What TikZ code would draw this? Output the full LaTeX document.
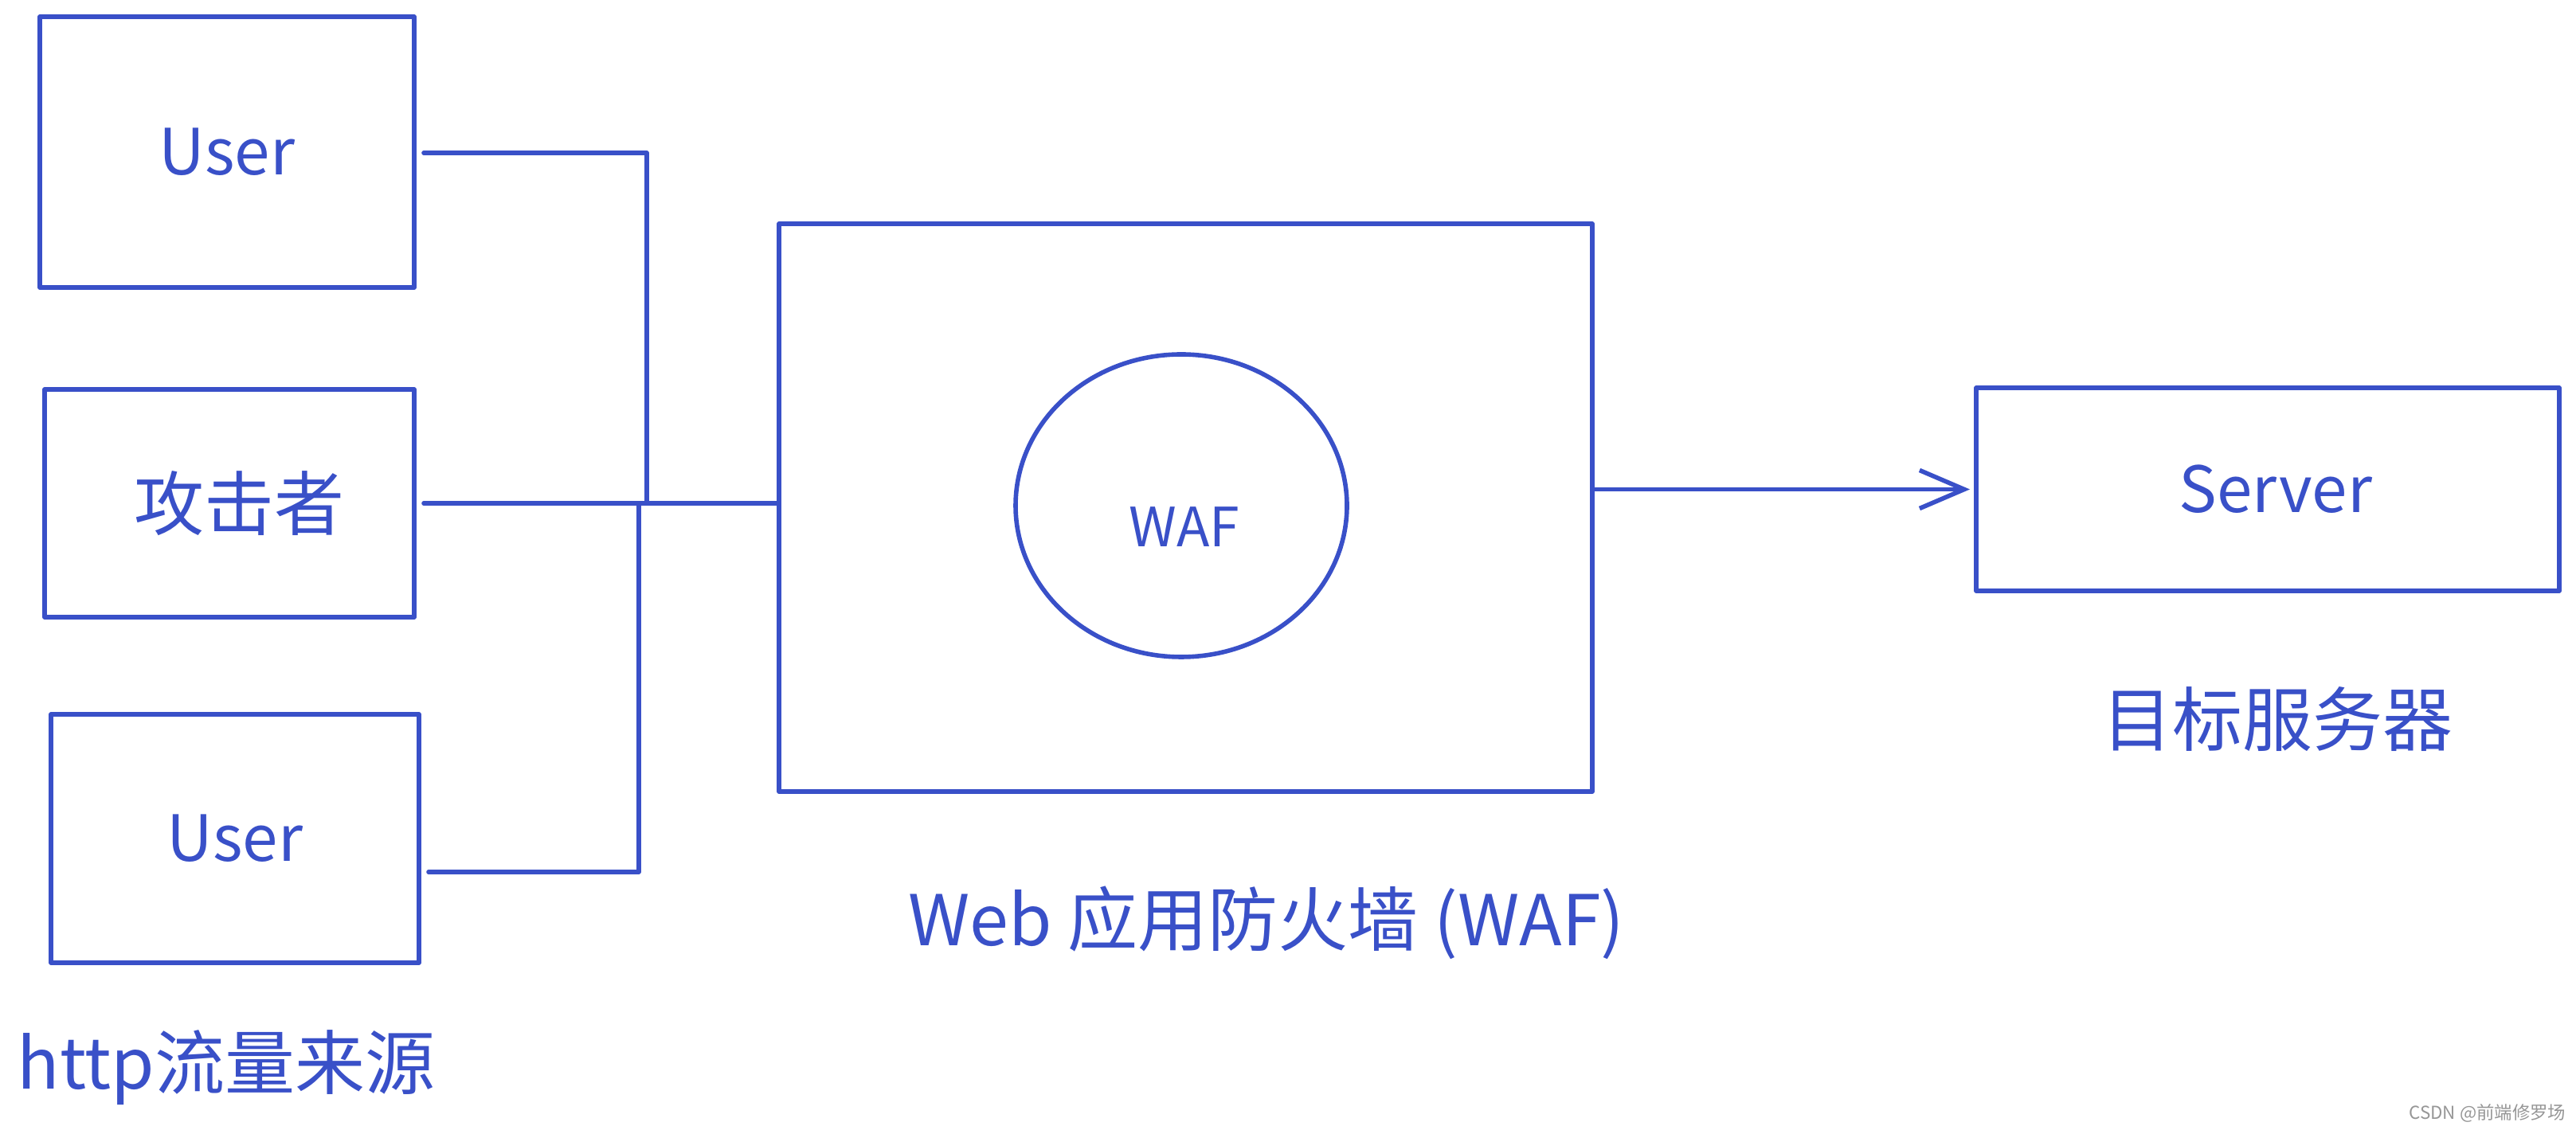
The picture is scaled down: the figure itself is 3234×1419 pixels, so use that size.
\documentclass[tikz,border=0pt]{standalone}
\usepackage{fontspec}
\newfontfamily\cjk{Noto Sans CJK SC}
\usetikzlibrary{arrows.meta,shapes.geometric}
\definecolor{ink}{RGB}{57,80,200}
\definecolor{wm}{RGB}{150,150,150}
\tikzset{
  every picture/.style={x=0.25pt,y=-0.25pt},
  stroke/.style={draw=ink,line width=1.4pt,line cap=round,line join=round},
  box/.style={stroke,rectangle,inner sep=0pt,outer sep=0pt,text=ink,font=\cjk\fontsize{20}{24}\selectfont},
  lbl/.style={text=ink,font=\cjk\fontsize{22}{26}\selectfont,inner sep=0pt},
  conn/.style={stroke}
}
\begin{document}
\begin{tikzpicture}
\useasboundingbox (0,0) rectangle (3234,1419);
% source boxes
\node[box,minimum width=117.5pt,minimum height=85pt] (u1) at (285,191) {User};
\node[box,minimum width=116pt,minimum height=71.5pt,font=\cjk\fontsize{22}{26}\selectfont] (atk) at (288,632) {\hspace*{6pt}攻击者};
\node[box,minimum width=115.5pt,minimum height=78pt] (u3) at (295,1053) {User};
% WAF
\node[box,minimum width=255.25pt,minimum height=178.25pt] (waf) at (1488.5,637.5) {};
\node[box,ellipse,minimum width=104pt,minimum height=95pt] (wafc) at (1483,635) {};
\node[lbl,font=\cjk\fontsize{17}{20}\selectfont] (waft) at (1487,662) {WAF};
% server
\node[box,minimum width=183pt,minimum height=63.75pt] (srv) at (2847,614.5) {\hspace*{5pt}Server};
% labels
\node[lbl] (srvl) at (2859,903) {目标服务器};
\node[lbl] (wafl) at (1590,1159) {Web 应用防火墙 (WAF)};
\node[lbl,anchor=west] (srcl) at (21,1341) {http流量来源};
\node[text=wm,font=\cjk\fontsize{5.6}{7}\selectfont,inner sep=0pt,anchor=east] (mark) at (3222,1398) {CSDN @前端修罗场};
% junctions
\coordinate (j1) at (812,192);
\coordinate (j3) at (802,1095);
% connectors
\draw[conn] ([xshift=3pt]u1.east |- j1) -- (j1) -- (j1 |- atk.east);
\draw[conn] ([xshift=3pt]u3.east |- j3) -- (j3) -- (j3 |- atk.east);
\draw[conn] ([xshift=3pt]atk.east) -- (atk.east -| waf.west);
\draw[conn,-{Straight Barb[length=14pt,width=12pt,line width=1.4pt]},shorten >=2pt] (waf.east |- srv.west) -- (srv.west);
\end{tikzpicture}
\end{document}
